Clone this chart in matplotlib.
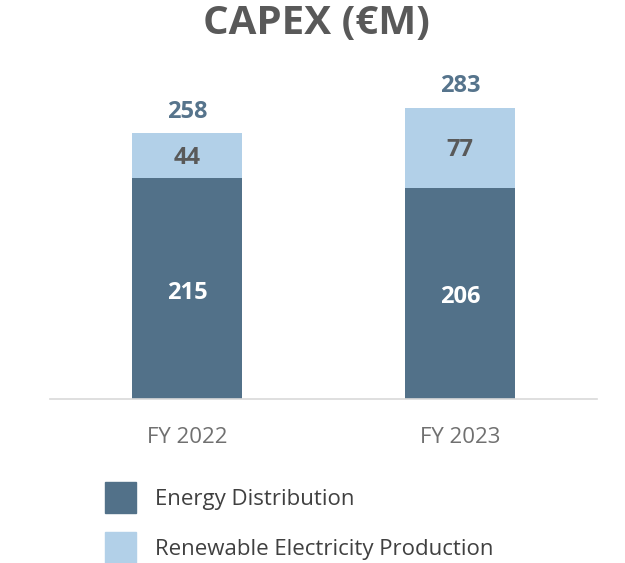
import matplotlib.pyplot as plt
from matplotlib.patches import Patch

plt.rcParams['font.family'] = ['Open Sans', 'DejaVu Sans']

years = ["FY 2022", "FY 2023"]
energy_distribution = [215, 206]
renewable_production = [44, 77]
totals = [258, 283]

dark = "#527189"
light = "#b2d0e8"
grey = "#595959"

fig = plt.figure(figsize=(6.25, 5.63), dpi=100)
ax = fig.add_axes([50 / 625, 164 / 563, 547 / 625, 308 / 563])

x = range(len(years))
w = 0.403
ax.bar(x, energy_distribution, width=w, color=dark, label="Energy Distribution")
ax.bar(x, renewable_production, width=w, bottom=energy_distribution, color=light,
       label="Renewable Electricity Production")

for i in x:
    ed = energy_distribution[i]
    rp = renewable_production[i]
    ax.text(i, ed / 2 - 4, str(ed), ha="center", va="center", color="white",
            fontsize=17, fontweight="bold")
    ax.text(i, ed + rp / 2 - 2, str(rp), ha="center", va="center", color=grey,
            fontsize=17, fontweight="bold")
    ax.text(i, totals[i] + 22, str(totals[i]), ha="center", va="center",
            color="#56748c", fontsize=17, fontweight="bold")

ax.set_xlim(-0.502, 1.502)
ax.set_ylim(0, 300)
ax.set_xticks(list(x))
ax.set_xticklabels(years, fontsize=16, color="#707070")
ax.tick_params(axis="x", length=0, pad=20.5)
ax.set_yticks([])
for s in ["top", "right", "left"]:
    ax.spines[s].set_visible(False)
ax.spines["bottom"].set_color("#d9d9d9")
ax.spines["bottom"].set_linewidth(1.2)

fig.text(0.507, 1 - 23 / 563, "CAPEX (€M)", ha="center", va="center",
         fontsize=29, fontweight="bold", color=grey)

handles = [Patch(color=dark), Patch(color=light)]
fig.legend(handles, ["Energy Distribution", "Renewable Electricity Production"],
           loc="upper left", bbox_to_anchor=(85 / 625, 1 - 462 / 563),
           frameon=False, fontsize=16, labelcolor="#404040",
           handlelength=1.4, handleheight=1.77, handletextpad=0.85,
           labelspacing=0.86)

fig.savefig("out.png", dpi=100)
